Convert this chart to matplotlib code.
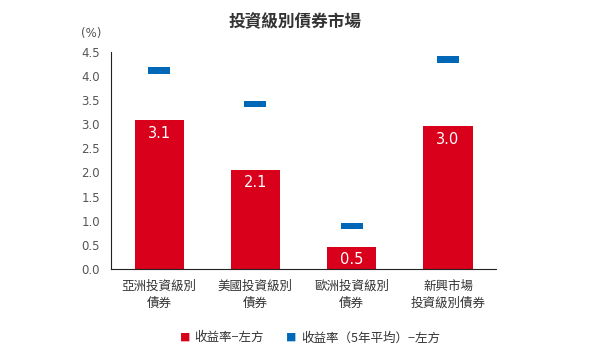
import matplotlib
matplotlib.use('Agg')
import matplotlib.pyplot as plt
import numpy as np

plt.rcParams['font.family'] = ['Noto Sans CJK TC', 'DejaVu Sans']

categories = ['亞洲投資級別\n債券', '美國投資級別\n債券', '歐洲投資級別\n債券', '新興市場\n投資級別債券']
yield_now = [3.08, 2.06, 0.46, 2.96]
yield_5y_avg = [4.12, 3.42, 0.89, 4.35]
labels_now = ['3.1', '2.1', '0.5', '3.0']

RED = '#D9001B'
BLUE = '#0068B7'

fig = plt.figure(figsize=(5.9, 3.53), dpi=100)
ax = fig.add_axes([0.188, 0.238, 0.653, 0.615])

x = np.arange(len(categories))
ax.bar(x, yield_now, width=0.51, color=RED, zorder=2)
# 5年平均以短橫條表示
mh = 0.14
ax.bar(x, [mh] * len(x), bottom=np.array(yield_5y_avg) - mh / 2,
       width=0.23, color=BLUE, zorder=3)

for xi, v, lab in zip(x, yield_now, labels_now):
    ax.text(xi, v - 0.27, lab, ha='center', va='center', color='white',
            fontsize=10.5, family='DejaVu Sans')

ax.set_xlim(-0.5, 3.5)
ax.set_ylim(0, 4.5)
ax.set_yticks(np.arange(0, 4.51, 0.5))
ax.set_yticklabels([f'{v:.1f}' for v in np.arange(0, 4.51, 0.5)],
                   family='DejaVu Sans')
ax.set_xticks(x)
ax.set_xticklabels(categories, fontsize=9, color='#333333', linespacing=1.35)
ax.tick_params(axis='y', length=0, labelsize=8.5, colors='#555555', pad=8)
ax.tick_params(axis='x', length=0, pad=8, colors='#333333')
for s in ['top', 'right']:
    ax.spines[s].set_visible(False)
ax.spines['left'].set_color('#222222')
ax.spines['bottom'].set_color('#222222')

fig.text(0.5, 0.937, '投資級別債券市場', ha='center', va='center',
         fontsize=12, fontweight='bold', color='#333333')
fig.text(0.155, 0.905, '(%)', ha='center', va='center', fontsize=8.5,
         color='#555555', family='DejaVu Sans')

# 圖例
fig.text(0.313, 0.043, '■', ha='center', va='center', color=RED, fontsize=7.5)
fig.text(0.330, 0.043, '收益率−左方', ha='left', va='center', fontsize=9, color='#333333')
fig.text(0.493, 0.043, '■', ha='center', va='center', color=BLUE, fontsize=7.5)
fig.text(0.510, 0.043, '收益率（5年平均）−左方', ha='left', va='center', fontsize=9, color='#333333')

fig.savefig('out.png', dpi=100)
